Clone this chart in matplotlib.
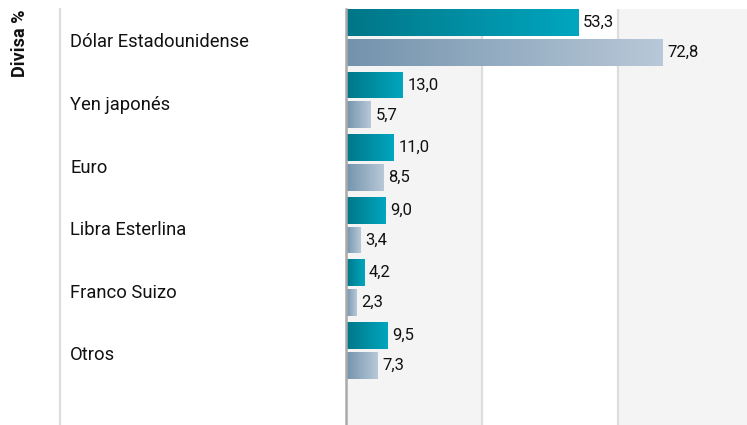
import numpy as np
import matplotlib.pyplot as plt
import matplotlib.transforms as mtransforms
from matplotlib.colors import LinearSegmentedColormap
from matplotlib.lines import Line2D

plt.rcParams['font.family'] = ['Roboto', 'DejaVu Sans']

# datos
divisas = ['Dólar Estadounidense', 'Yen japonés', 'Euro', 'Libra Esterlina', 'Franco Suizo', 'Otros']
serie_a = [53.3, 13.0, 11.0, 9.0, 4.2, 9.5]
serie_b = [72.8, 5.7, 8.5, 3.4, 2.3, 7.3]
etiquetas_a = ['53,3', '13,0', '11,0', '9,0', '4,2', '9,5']
etiquetas_b = ['72,8', '5,7', '8,5', '3,4', '2,3', '7,3']

cmap_a = LinearSegmentedColormap.from_list('a', ['#007687', '#00a6bf'])
cmap_b = LinearSegmentedColormap.from_list('b', ['#7393ac', '#b8c8d8'])

fig = plt.figure(figsize=(7.47, 4.25), dpi=100)
ax = fig.add_axes([346 / 747, 0, 401 / 747, 1 - 9 / 425])

xmax = 401 / 4.353
band = 31.25
ax.set_xlim(0, xmax)
ax.set_ylim(-0.454 + 6.65, -0.454)

# bandas de fondo
ax.axvspan(0, band, color='#f4f4f4', zorder=0, lw=0)
ax.axvspan(2 * band, xmax, color='#f4f4f4', zorder=0, lw=0)
for g in (band, 2 * band):
    ax.axvline(g, color='#dddddd', lw=1.6, zorder=1)

h = 0.43
off = 0.239
y = np.arange(len(divisas))
grad = np.linspace(0, 1, 256).reshape(1, -1)


def barras_gradiente(ys, vals, cmap, labels):
    bars = ax.barh(ys, vals, height=h, color='none', lw=0, zorder=2)
    for b, v, lab in zip(bars, vals, labels):
        x0, y0 = b.get_x(), b.get_y()
        im = ax.imshow(grad, cmap=cmap, aspect='auto', zorder=2,
                       extent=[x0, x0 + b.get_width(), y0 + b.get_height(), y0])
        im.set_clip_path(b)
        ax.text(v + 1.1, y0 + b.get_height() / 2, lab, va='center', ha='left',
                fontsize=12, color='#111111', zorder=3)


barras_gradiente(y - off, serie_a, cmap_a, etiquetas_a)
barras_gradiente(y + off, serie_b, cmap_b, etiquetas_b)
ax.set_xlim(0, xmax)
ax.set_ylim(-0.454 + 6.65, -0.454)

ax.set_xticks([])
ax.set_yticks([])
for s in ('top', 'right', 'bottom'):
    ax.spines[s].set_visible(False)
ax.spines['left'].set_color('#aaaaaa')
ax.spines['left'].set_linewidth(1.8)

# etiquetas de categoria
tr = mtransforms.blended_transform_factory(fig.transFigure, ax.transData)
for yi, name in zip(y, divisas):
    ax.text(70 / 747, yi + 0.08, name, transform=tr, ha='left', va='center',
            fontsize=13.2, color='#111111', clip_on=False)

fig.add_artist(Line2D([59.5 / 747, 59.5 / 747], [0, 1 - 9 / 425],
                      color='#dddddd', lw=1.6))
fig.text(20 / 747, 1 - 43 / 425, 'Divisa %', rotation=90, ha='center', va='center',
         fontsize=13, fontweight='bold', color='#111111')

fig.savefig('out.png', dpi=100)
